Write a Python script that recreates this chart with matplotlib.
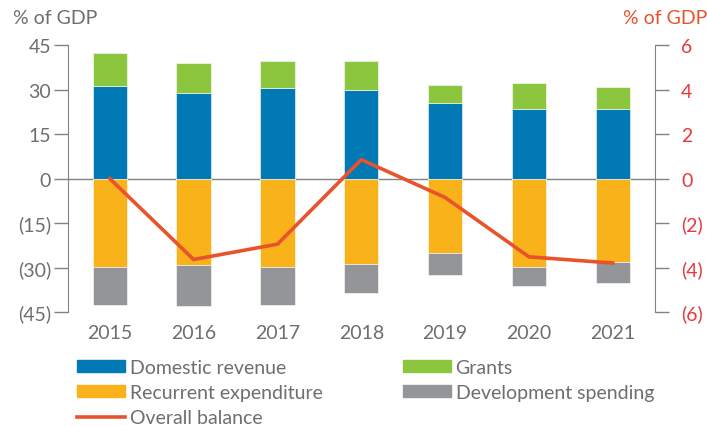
import matplotlib.pyplot as plt
from matplotlib.ticker import FuncFormatter
from matplotlib.patches import Patch
from matplotlib.lines import Line2D

plt.rcParams['font.family'] = ['Lato', 'DejaVu Sans']

years = ['2015', '2016', '2017', '2018', '2019', '2020', '2021']
domestic_revenue = [31.2, 28.7, 30.6, 29.7, 25.6, 23.3, 23.6]
grants = [11.3, 10.3, 9.0, 9.9, 6.1, 8.8, 7.4]
recurrent_exp = [-29.8, -29.2, -29.8, -28.9, -25.0, -29.8, -28.3]
development = [-12.7, -13.8, -12.7, -9.6, -7.6, -6.3, -6.9]
overall_balance = [0.0, -3.64, -2.95, 0.85, -0.85, -3.52, -3.8]

c_blue = '#0079b5'
c_green = '#8cc63f'
c_yellow = '#f9b21a'
c_grey = '#939598'
c_line = '#e9532b'
c_red = '#e8383d'
c_text = '#6d6e71'
c_axis = '#808285'
fs = 14


def paren(v, _):
    v = int(round(v))
    return f'({abs(v)})' if v < 0 else f'{v}'


fig = plt.figure(figsize=(7.07, 4.27), dpi=100)
ax = fig.add_axes([0.096, 0.267, 0.83, 0.625])
x = list(range(len(years)))
w = 0.41

ax.bar(x, domestic_revenue, w, color=c_blue, edgecolor='white', linewidth=0.4, zorder=2)
ax.bar(x, grants, w, bottom=domestic_revenue, color=c_green, edgecolor='white', linewidth=0.4, zorder=2)
ax.bar(x, recurrent_exp, w, color=c_yellow, edgecolor='white', linewidth=0.4, zorder=2)
ax.bar(x, development, w, bottom=recurrent_exp, color=c_grey, edgecolor='white', linewidth=0.4, zorder=2)
ax.axhline(0, color=c_axis, linewidth=1.0, zorder=1)

ax.set_xlim(-0.5, 6.5)
ax.set_ylim(-45, 45)
ax.set_yticks([-45, -30, -15, 0, 15, 30, 45])
ax.yaxis.set_major_formatter(FuncFormatter(paren))
ax.set_xticks(x)
ax.set_xticklabels(years)
ax.tick_params(axis='x', length=0, pad=9, labelsize=fs, colors=c_text)
ax.tick_params(axis='y', length=10, width=1, color=c_axis, labelsize=fs, labelcolor=c_text, pad=2)
for s in ['top', 'bottom', 'right']:
    ax.spines[s].set_visible(False)
ax.spines['left'].set_color(c_axis)

ax2 = ax.twinx()
ax2.plot(x, overall_balance, color=c_line, linewidth=2.6, zorder=3)
ax2.set_ylim(-6, 6)
ax2.set_yticks([-6, -4, -2, 0, 2, 4, 6])
ax2.yaxis.set_major_formatter(FuncFormatter(paren))
ax2.tick_params(axis='y', length=10, width=1, color=c_axis, labelsize=fs, labelcolor=c_red, pad=9)
for s in ['top', 'bottom', 'left']:
    ax2.spines[s].set_visible(False)
ax2.spines['right'].set_color(c_axis)

fig.text(13 / 707, 1 - 18 / 427, '% of GDP', color=c_text, fontsize=fs, va='center', ha='left')
fig.text(1.0, 1 - 18 / 427, '% of GDP', color=c_line, fontsize=fs, va='center', ha='right')

leg_kw = dict(loc='upper left', frameon=False, fontsize=fs, handlelength=2.45, handleheight=0.55,
              handletextpad=0.25, labelspacing=0.42, borderaxespad=0, borderpad=0)
left_handles = [
    Patch(color=c_blue, label='Domestic revenue'),
    Patch(color=c_yellow, label='Recurrent expenditure'),
    Line2D([], [], color=c_line, linewidth=2.6, label='Overall balance'),
]
right_handles = [
    Patch(color=c_green, label='Grants'),
    Patch(color=c_grey, label='Development spending'),
]
leg1 = fig.legend(handles=left_handles, bbox_to_anchor=(77 / 707, 1 - 360 / 427), **leg_kw)
leg2 = fig.legend(handles=right_handles, bbox_to_anchor=(403 / 707, 1 - 360 / 427), **leg_kw)
for leg in (leg1, leg2):
    for t in leg.get_texts():
        t.set_color(c_text)

fig.savefig('out.png', dpi=100)
